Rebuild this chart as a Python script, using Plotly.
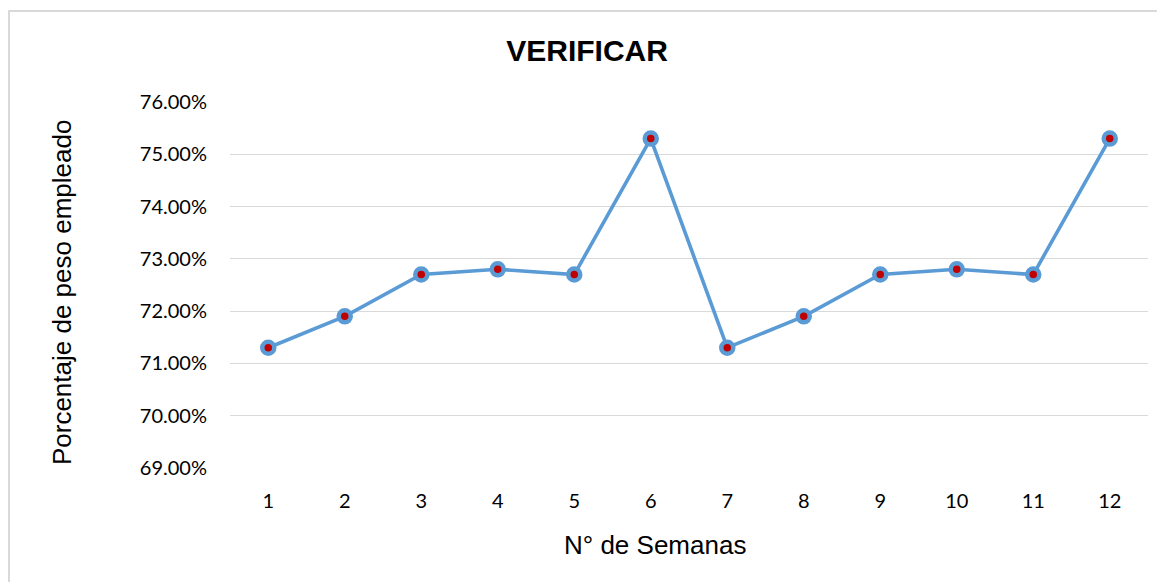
import plotly.graph_objects as go

semanas = list(range(1, 13))
porcentaje = [0.713, 0.719, 0.727, 0.728, 0.727, 0.753,
              0.713, 0.719, 0.727, 0.728, 0.727, 0.753]
y_ticks = [0.69, 0.70, 0.71, 0.72, 0.73, 0.74, 0.75, 0.76]

fig = go.Figure()
fig.add_trace(go.Scatter(
    x=semanas, y=porcentaje, mode='lines+markers',
    line=dict(color='#5B9BD5', width=3.6),
    marker=dict(size=12, color='#C00000', line=dict(color='#5B9BD5', width=4.5)),
    showlegend=False
))

# page body adds an 8px offset, so the figure is a bit smaller than the window
W, H = 1157, 574
L, R, T, B = 222, 17, 94, 114
pw, ph = W - L - R, H - T - B

fig.update_layout(
    width=W, height=H,
    paper_bgcolor='white', plot_bgcolor='white',
    margin=dict(l=L, r=R, t=T, b=B),
    title=dict(text='<b>VERIFICAR</b>', x=0.5005, xanchor='center',
               y=1 - 42 / H, yanchor='middle',
               font=dict(family='Liberation Sans, Arial', size=30, color='black')),
    xaxis=dict(
        range=[0.5, 12.5], tickvals=semanas, ticktext=[str(s) for s in semanas],
        showgrid=False, zeroline=False, showline=False, ticks='',
        tickfont=dict(family='Lato, Open Sans', size=20, color='black'),
        ticklabelstandoff=19,
    ),
    yaxis=dict(
        range=[0.69, 0.76], tickvals=y_ticks, tickformat='.2%',
        showgrid=True, gridcolor='#D9D9D9', gridwidth=1.3,
        zeroline=False, showline=False, ticks='',
        tickfont=dict(family='Lato, Open Sans', size=20, color='black'),
        ticklabelstandoff=22,
    ),
)

fig.add_annotation(text='Porcentaje de peso empleado', xref='paper', yref='paper',
                   x=-168 / pw, y=0.478, xanchor='center', yanchor='middle',
                   textangle=-90, showarrow=False,
                   font=dict(family='Liberation Sans, Arial', size=26, color='black'))
fig.add_annotation(text='N° de Semanas', xref='paper', yref='paper',
                   x=0.463, y=-77 / ph, xanchor='center', yanchor='middle',
                   showarrow=False,
                   font=dict(family='Liberation Sans, Arial', size=26, color='black'))

fig.add_shape(type='rect', xref='paper', yref='paper',
              x0=(1 - L) / pw, x1=1.1, y0=-0.5, y1=(ph + T - 3) / ph,
              line=dict(color='#D9D9D9', width=2), layer='below')

fig.write_html("out.html")
